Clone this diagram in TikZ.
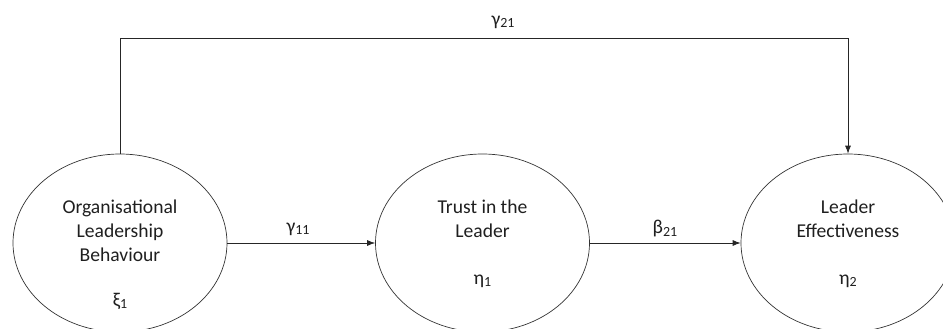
\documentclass[tikz,border=0pt]{standalone}
\usepackage{fontspec}
\setmainfont{Carlito}
\usetikzlibrary{shapes.geometric,arrows.meta}
\newcommand{\idx}[1]{\raisebox{-0.25ex}{\fontsize{14}{14}\selectfont #1}}
\tikzset{
  latent/.style={ellipse, draw=black!80, line width=0.7pt, minimum width=214pt, minimum height=178pt, inner sep=0pt},
  caption/.style={font=\fontsize{19.6}{24}\selectfont, align=center, text=black!88, inner sep=0pt},
  path/.style={draw=black!85, line width=0.8pt, -{Latex[length=8pt,width=6pt]}},
  coef/.style={font=\fontsize{19.6}{24}\selectfont, text=black!88, inner sep=0pt}
}
\begin{document}
\begin{tikzpicture}[x=1pt,y=-1pt]
  \useasboundingbox (0,0) rectangle (943,329);
  % latent variables
  \node[latent] (olb) at (120,243) {};
  \node[latent] (tl)  at (482.5,243) {};
  \node[latent] (le)  at (848,243) {};
  % names and symbols inside the ellipses
  \node[caption] (olbname) at (120,231) {Organisational\\Leadership\\Behaviour};
  \node[caption] (olbsym)  at (120,301) {ξ\idx{1}};
  \node[caption] (tlname)  at (482.5,219) {Trust in the\\Leader};
  \node[caption] (tlsym)   at (482.5,281) {η\idx{1}};
  \node[caption] (lename)  at (848,219) {Leader\\Effectiveness};
  \node[caption] (lesym)   at (848,281) {η\idx{2}};
  % structural paths
  \draw[path] (olb.east) -- (tl.west);
  \draw[path] (tl.east) -- (le.west);
  \coordinate (upL) at (olb.north |- 0,38);
  \coordinate (upR) at (le.north |- 0,38);
  \draw[path] (olb.north) -- (upL) -- (upR) -- (le.north);
  % coefficients
  \node[coef] (g11) at (298,229) {γ\idx{11}};
  \node[coef] (b21) at (665,229) {β\idx{21}};
  \node[coef] (g21) at (503,22) {γ\idx{21}};
\end{tikzpicture}
\end{document}
